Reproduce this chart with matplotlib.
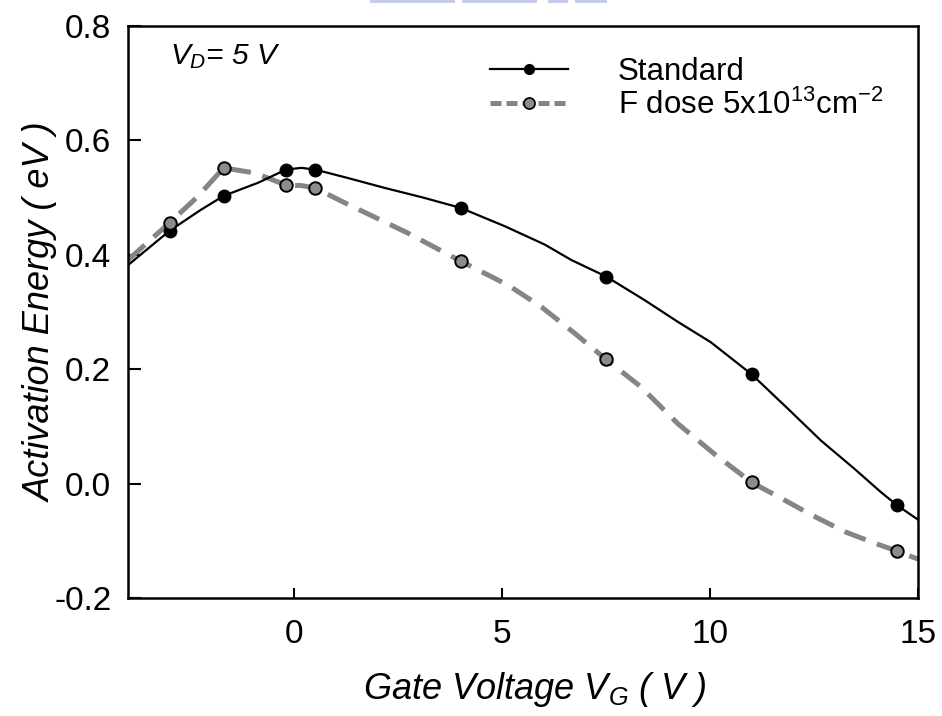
import numpy as np
import matplotlib
matplotlib.use("Agg")
import matplotlib.pyplot as plt
from matplotlib.lines import Line2D

plt.rcParams['font.family'] = ['Liberation Sans', 'DejaVu Sans']
plt.rcParams['mathtext.fontset'] = 'custom'
plt.rcParams['mathtext.rm'] = 'Liberation Sans'
plt.rcParams['mathtext.it'] = 'Liberation Sans:italic'

# measured points
vg_pts = [-3.0, -1.7, -0.2, 0.5, 4.0, 7.5, 11.0, 14.5]
ea_std = [0.442, 0.503, 0.549, 0.549, 0.482, 0.362, 0.191, -0.038]
ea_f = [0.456, 0.552, 0.522, 0.517, 0.389, 0.217, 0.002, -0.118]

# fitted curves
vg_std_fit = [-4.0, -3.0, -2.24, -1.7, -0.87, -0.2, 0.17, 0.5, 1.3, 2.17, 3.1, 4.0,
              5.06, 6.02, 6.66, 7.5, 8.42, 9.22, 10.02, 11.0, 11.87, 12.67, 13.47,
              14.11, 14.5, 15.0]
ea_std_fit = [0.382, 0.442, 0.479, 0.503, 0.526, 0.549, 0.552, 0.549, 0.534, 0.517,
              0.500, 0.482, 0.450, 0.418, 0.391, 0.362, 0.321, 0.283, 0.247, 0.191,
              0.131, 0.075, 0.026, -0.015, -0.038, -0.063]
vg_f_fit = [-4.0, -3.0, -2.32, -1.7, -0.95, -0.2, 0.17, 0.5, 1.21, 2.73, 4.0, 5.14,
            5.94, 6.74, 7.5, 8.34, 9.22, 10.1, 11.0, 11.67, 12.47, 13.27, 14.03,
            14.5, 15.0]
ea_f_fit = [0.391, 0.456, 0.502, 0.552, 0.543, 0.522, 0.521, 0.517, 0.491, 0.438,
            0.389, 0.347, 0.309, 0.263, 0.217, 0.169, 0.105, 0.052, 0.002, -0.024,
            -0.056, -0.085, -0.106, -0.118, -0.132]

xticks = [0, 5, 10, 15]
yticks = [-0.2, 0.0, 0.2, 0.4, 0.6, 0.8]

fig = plt.figure(figsize=(9.42, 7.16), dpi=100)
ax = fig.add_axes([0.1359, 0.1648, 0.8386, 0.7989])

gray = '#858585'
ax.plot(vg_std_fit, ea_std_fit, color='black', lw=1.6, zorder=3)
ax.plot(vg_f_fit, ea_f_fit, color=gray, lw=3.6, ls=(0, (4.5, 2.4)), zorder=2)
ax.plot(vg_pts, ea_std, 'o', color='black', ms=9, zorder=4)
ax.plot(vg_pts, ea_f, 'o', mfc='#8c8c8c', mec='black', mew=1.4, ms=9, zorder=4)

ax.set_xlim(-4, 15)
ax.set_ylim(-0.2, 0.8)
ax.set_xticks(xticks)
ax.set_yticks(yticks)
ax.set_xticklabels([str(t) for t in xticks])
ax.set_yticklabels(['%.1f' % t for t in yticks])
ax.tick_params(axis='x', direction='in', length=7, width=1.5, labelsize=24, pad=15)
ax.tick_params(axis='y', direction='in', length=9, width=1.5, labelsize=24, pad=12)
for s in ax.spines.values():
    s.set_linewidth(1.8)

ax.set_xlabel('Gate Voltage $V_G$ ( V )', fontsize=26, style='italic')
ax.xaxis.set_label_coords(0.515, -0.125)
ax.set_ylabel('Activation Energy ( eV )', fontsize=26, style='italic')
ax.yaxis.set_label_coords(-0.088, 0.5)

ax.text(0.053, 0.972, '$V_D$= 5 V', transform=ax.transAxes, fontsize=21.5,
        style='italic', va='top', ha='left')

handles = [
    Line2D([], [], color='black', lw=1.6, marker='o', ms=7),
    Line2D([], [], color=gray, lw=3.6, ls=(0, (2.2, 1.0)), marker='o', ms=8,
           mfc='#8c8c8c', mec='black', mew=1.2),
]
labels = ['Standard', 'F dose 5x10$^{13}$cm$^{-2}$']
ax.legend(handles, labels, loc='upper left', bbox_to_anchor=(0.458, 0.946),
          frameon=False, fontsize=22.5, handlelength=2.5, handletextpad=1.6,
          borderpad=0, borderaxespad=0, labelspacing=0.1)

# bit of blue watermark clipped at the top edge
for x0, w in [(370, 85), (462, 75), (548, 20), (575, 32)]:
    fig.patches.append(plt.Rectangle((x0 / 942, 1 - 3 / 716), w / 942, 3 / 716,
                                     transform=fig.transFigure, color='#c4ccf6',
                                     lw=0))

fig.savefig('out.png', dpi=100)
